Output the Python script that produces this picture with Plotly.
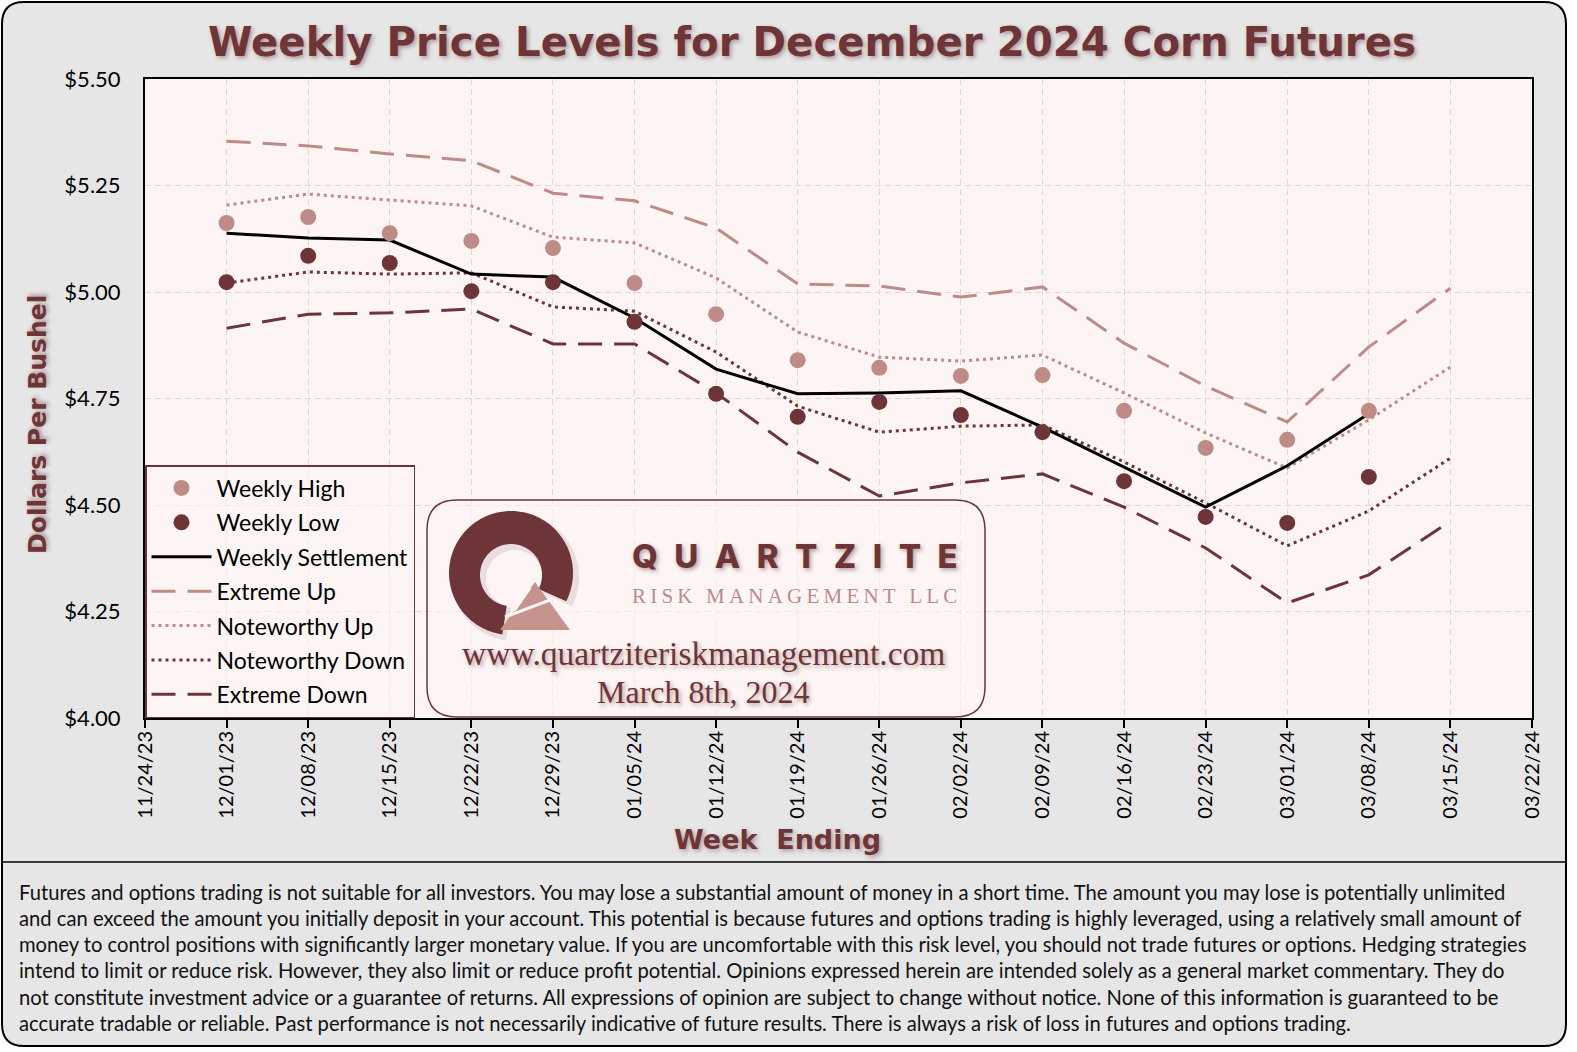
import numpy as np
import plotly.graph_objects as go

# ---------------- data ----------------
weeks_obs = ["2023-12-01", "2023-12-08", "2023-12-15", "2023-12-22", "2023-12-29",
             "2024-01-05", "2024-01-12", "2024-01-19", "2024-01-26", "2024-02-02",
             "2024-02-09", "2024-02-16", "2024-02-23", "2024-03-01", "2024-03-08"]
weeks_band = weeks_obs + ["2024-03-15"]
tick_weeks = ["2023-11-24"] + weeks_band + ["2024-03-22"]

weekly_high = [5.162, 5.176, 5.138, 5.120, 5.103, 5.021, 4.948, 4.840, 4.822, 4.803,
               4.805, 4.721, 4.634, 4.653, 4.721]
weekly_low = [5.023, 5.085, 5.068, 5.002, 5.023, 4.930, 4.761, 4.707, 4.742, 4.711,
              4.671, 4.556, 4.472, 4.458, 4.566]
weekly_settle = [5.138, 5.127, 5.122, 5.042, 5.035, 4.939, 4.819, 4.761, 4.763, 4.768,
                 4.683, 4.589, 4.495, 4.592, 4.714]
extreme_up = [5.354, 5.343, 5.324, 5.308, 5.232, 5.214, 5.150, 5.019, 5.014, 4.988,
              5.012, 4.880, 4.779, 4.695, 4.871, 5.009]
noteworthy_up = [5.204, 5.230, 5.216, 5.202, 5.129, 5.115, 5.033, 4.906, 4.847, 4.838,
                 4.852, 4.763, 4.669, 4.587, 4.700, 4.824]
noteworthy_down = [5.021, 5.047, 5.042, 5.045, 4.965, 4.955, 4.859, 4.732, 4.671, 4.685,
                   4.688, 4.601, 4.505, 4.404, 4.486, 4.610]
extreme_down = [4.915, 4.948, 4.951, 4.960, 4.878, 4.878, 4.763, 4.624, 4.521, 4.552,
                4.573, 4.495, 4.399, 4.270, 4.336, 4.462]
y_ticks = [4.00, 4.25, 4.50, 4.75, 5.00, 5.25, 5.50]

disclaimer_lines = [
    "Futures and options trading is not suitable for all investors. You may lose a substantial amount of money in a short time. The amount you may lose is potentially unlimited",
    "and can exceed the amount you initially deposit in your account. This potential is because futures and options trading is highly leveraged, using a relatively small amount of",
    "money to control positions with significantly larger monetary value. If you are uncomfortable with this risk level, you should not trade futures or options. Hedging strategies",
    "intend to limit or reduce risk. However, they also limit or reduce profit potential. Opinions expressed herein are intended solely as a general market commentary. They do",
    "not constitute investment advice or a guarantee of returns. All expressions of opinion are subject to change without notice. None of this information is guaranteed to be",
    "accurate tradable or reliable. Past performance is not necessarily indicative of future results. There is always a risk of loss in futures and options trading.",
]

# ---------------- style ----------------
W, H = 1577, 1052
L, R, T, B = 145, 1532, 79, 718
LIGHT = "#BE8B87"
DARK = "#6E3538"
PLOT_BG = "#FCF5F4"
GRID = "#E8D4D4"
SANS = "Lato"
HEAVY = "DejaVu Sans"


def px(x):
    return (x - L) / (R - L)


def py(y):
    return (B - y) / (B - T)


def P(x, y):
    return f"{px(x):.5f},{py(y):.5f}"


def rrect(x0, y0, x1, y1, r):
    return (f"M{P(x0 + r, y0)} L{P(x1 - r, y0)} Q{P(x1, y0)} {P(x1, y0 + r)} "
            f"L{P(x1, y1 - r)} Q{P(x1, y1)} {P(x1 - r, y1)} L{P(x0 + r, y1)} "
            f"Q{P(x0, y1)} {P(x0, y1 - r)} L{P(x0, y0 + r)} Q{P(x0, y0)} {P(x0 + r, y0)} Z")


def ring_path(cx, cy, ro, ri, a0, a1, hcx, hcy, n=90):
    angs = np.radians(np.linspace(a0, a1, n))
    pts = [(cx + ro * np.cos(a), cy - ro * np.sin(a)) for a in angs]
    pts += [(hcx + ri * np.cos(a), hcy - ri * np.sin(a)) for a in angs[::-1]]
    s = "M" + P(*pts[0])
    for p in pts[1:]:
        s += " L" + P(*p)
    return s + " Z"


def poly(pts):
    s = "M" + P(*pts[0])
    for p in pts[1:]:
        s += " L" + P(*p)
    return s + " Z"


fig = go.Figure()

band_dash = "24px,12px"
fig.add_trace(go.Scatter(x=weeks_band, y=extreme_up, mode="lines", name="Extreme Up",
                         line=dict(color=LIGHT, width=3, dash=band_dash),
                         legendrank=4, legendgroup="g4"))
fig.add_trace(go.Scatter(x=weeks_band, y=noteworthy_up, mode="lines", name="Noteworthy Up",
                         line=dict(color=LIGHT, width=3, dash="3px,4px"),
                         legendrank=5, legendgroup="g5"))
fig.add_trace(go.Scatter(x=weeks_band, y=noteworthy_down, mode="lines", name="Noteworthy Down",
                         line=dict(color=DARK, width=3, dash="3px,4px"),
                         legendrank=6, legendgroup="g6"))
fig.add_trace(go.Scatter(x=weeks_band, y=extreme_down, mode="lines", name="Extreme Down",
                         line=dict(color=DARK, width=3, dash=band_dash),
                         legendrank=7, legendgroup="g7"))
fig.add_trace(go.Scatter(x=weeks_obs, y=weekly_settle, mode="lines", name="Weekly Settlement",
                         line=dict(color="black", width=3),
                         legendrank=3, legendgroup="g3"))
fig.add_trace(go.Scatter(x=weeks_obs, y=weekly_high, mode="markers", name="Weekly High",
                         marker=dict(color=LIGHT, size=16),
                         legendrank=1, legendgroup="g1"))
fig.add_trace(go.Scatter(x=weeks_obs, y=weekly_low, mode="markers", name="Weekly Low",
                         marker=dict(color=DARK, size=16),
                         legendrank=2, legendgroup="g2"))

shapes = [
    dict(type="path", xref="paper", yref="paper", layer="below",
         path=rrect(2, 2, 1566, 1046, 22), fillcolor="#E6E6E6",
         line=dict(color="black", width=2)),
    dict(type="line", xref="paper", yref="paper", layer="below",
         x0=px(2), x1=px(1566), y0=py(862), y1=py(862),
         line=dict(color="black", width=1.5)),
    dict(type="rect", xref="paper", yref="paper", layer="below",
         x0=0, x1=1, y0=0, y1=1, fillcolor=PLOT_BG, line=dict(width=0)),
    # logo box
    dict(type="path", xref="paper", yref="paper", layer="above",
         path=rrect(427, 500, 985, 717, 30), fillcolor="rgba(252,245,244,0.6)",
         line=dict(color=DARK, width=1.5)),
    # Q ring shadow
    dict(type="path", xref="paper", yref="paper", layer="above",
         path=ring_path(515, 577, 64, 29, -27, 262, 515, 579),
         fillcolor="rgba(110,53,55,0.12)", line=dict(width=0)),
    # Q ring
    dict(type="path", xref="paper", yref="paper", layer="above",
         path=ring_path(511, 573, 62, 31, -27, 262, 511, 575), fillcolor=DARK,
         line=dict(width=0)),
    # triangle
    dict(type="path", xref="paper", yref="paper", layer="above",
         path=poly([(535, 582), (570, 630), (500, 630)]), fillcolor="#C4938E",
         line=dict(width=0)),
    dict(type="line", xref="paper", yref="paper", layer="above",
         x0=px(505), y0=py(617), x1=px(550), y1=py(600),
         line=dict(color="#FCF5F4", width=3)),
    dict(type="line", xref="paper", yref="paper", layer="above",
         x0=px(530), y0=py(588), x1=px(514), y1=py(611),
         line=dict(color="#FCF5F4", width=3)),
]

shadow_dark = "2px 2px 4px rgba(110,53,55,0.45)"
annotations = [
    dict(text="<b>Weekly Price Levels for December 2024 Corn Futures</b>",
         x=px(812), y=py(42), xref="paper", yref="paper", showarrow=False,
         xanchor="center", yanchor="middle",
         font=dict(family=HEAVY, size=40.3, color=DARK, shadow=shadow_dark)),
    dict(text="<b>Dollars Per Bushel</b>", x=px(37), y=py(425), xref="paper", yref="paper",
         showarrow=False, textangle=-90, xanchor="center", yanchor="middle",
         font=dict(family=HEAVY, size=25, color=DARK, shadow=shadow_dark)),
    dict(text="<b>Week  Ending</b>", x=px(777), y=py(839), xref="paper", yref="paper",
         showarrow=False, xanchor="center", yanchor="middle",
         font=dict(family=HEAVY, size=27, color=DARK, shadow=shadow_dark)),
    dict(text="Q\u2002U\u2002A\u2002R\u2002T\u2002Z\u2002I\u2002T\u2002E",
         x=px(795), y=py(556), xref="paper", yref="paper", showarrow=False,
         xanchor="center", yanchor="middle",
         font=dict(family="Inter", size=33, color=DARK, weight=800, shadow=shadow_dark)),
    dict(text="\u2009".join("RISK MANAGEMENT LLC"),
         x=px(794), y=py(596), xref="paper", yref="paper", showarrow=False,
         xanchor="center", yanchor="middle",
         font=dict(family="Liberation Serif", size=21, color=LIGHT)),
    dict(text="www.quartziteriskmanagement.com", x=px(703), y=py(653), xref="paper", yref="paper",
         showarrow=False, xanchor="center", yanchor="middle",
         font=dict(family="Liberation Serif", size=33.5, color=DARK, shadow=shadow_dark)),
    dict(text="March 8th, 2024", x=px(703), y=py(692), xref="paper", yref="paper",
         showarrow=False, xanchor="center", yanchor="middle",
         font=dict(family="Liberation Serif", size=32, color=DARK, shadow=shadow_dark)),
]
line_y = [892, 918, 944, 970, 997, 1023]
for txt, yy in zip(disclaimer_lines, line_y):
    annotations.append(dict(text=txt, x=px(17), y=py(yy), xref="paper", yref="paper",
                            showarrow=False, xanchor="left", yanchor="middle",
                            font=dict(family=SANS, size=20.2, color="#111111")))

fig.update_layout(
    width=W, height=H,
    margin=dict(l=L, r=W - R, t=T, b=H - B, pad=0),
    paper_bgcolor="white", plot_bgcolor="rgba(0,0,0,0)",
    showlegend=True,
    legend=dict(x=0, y=0, xanchor="left", yanchor="bottom", xref="paper", yref="paper",
                bgcolor="rgba(252,245,244,0.6)", bordercolor=DARK, borderwidth=1.5,
                font=dict(family=SANS, size=23, color="black"),
                tracegroupgap=1.5, itemwidth=60, traceorder="grouped"),
    shapes=shapes, annotations=annotations,
)
fig.update_xaxes(type="date", range=[tick_weeks[0], tick_weeks[-1]],
                 tickvals=tick_weeks, tickformat="%m/%d/%y", tickangle=-90,
                 tickfont=dict(family=SANS, size=20, color="black"),
                 ticks="outside", ticklen=8, tickwidth=2, tickcolor="black",
                 ticklabelstandoff=-5,
                 showline=True, linecolor="black", linewidth=2, mirror=True,
                 showgrid=True, gridcolor=GRID, gridwidth=1, griddash="6px,4px",
                 zeroline=False)
fig.update_yaxes(range=[4.0, 5.5], tickvals=y_ticks, tickformat="$.2f",
                 tickfont=dict(family=SANS, size=22, color="black"),
                 ticks="", ticklabelstandoff=18,
                 showline=True, linecolor="black", linewidth=2, mirror=True,
                 showgrid=True, gridcolor=GRID, gridwidth=1, griddash="6px,4px",
                 zeroline=False)

fig.write_html("out.html", config={"displayModeBar": False},
               post_script="document.body.style.margin='0';document.body.style.overflow='hidden';")
